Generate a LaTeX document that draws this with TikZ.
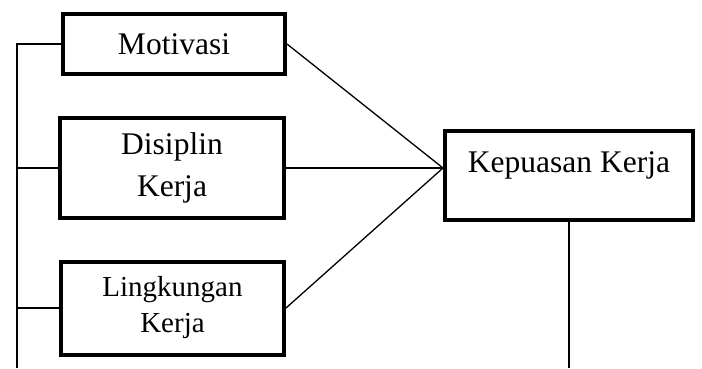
\documentclass[tikz,border=0pt]{standalone}
\usepackage{fontspec}
\setmainfont{Liberation Serif}
\usepackage{tikz}
\usetikzlibrary{positioning,calc}

\tikzset{
    box/.style={draw,line width=4pt,rectangle,align=center,inner sep=0pt,
        font=\fontsize{31.5}{42}\selectfont},
    link/.style={line width=1.3pt}
}

\begin{document}
\begin{tikzpicture}[x=1pt,y=-1pt]
    \useasboundingbox (0,0) rectangle (702,368);
    \node[box,minimum width=222pt,minimum height=60pt] (motivasi) at (174,44) {Motivasi};
    \node[box,minimum width=224pt,minimum height=100pt] (disiplin) at (172,168) {Disiplin\\Kerja};
    \node[box,minimum width=223pt,minimum height=93pt,
        font=\fontsize{29}{36}\selectfont] (lingkungan) at (172.5,308) {Lingkungan\\Kerja};
    \node[box,minimum width=248pt,text height=22pt,text depth=29pt,inner ysep=19pt] (kepuasan) at (569,175.5) {Kepuasan Kerja};
    \coordinate (kin) at (disiplin.east -| kepuasan.west);
    \coordinate (busend) at (17,368);
    \coordinate (kend) at (kepuasan.south |- busend);
    \path[link]
        (motivasi.east) edge (kin)
        (disiplin.east) edge (kin)
        (lingkungan.east) edge (kin)
        (kepuasan.south) edge (kend);
    \draw[link] (motivasi.west) -- (motivasi.west -| busend) -- (busend);
    \draw[link] (disiplin.west) -- (disiplin.west -| busend);
    \draw[link] (lingkungan.west) -- (lingkungan.west -| busend);
\end{tikzpicture}
\end{document}
